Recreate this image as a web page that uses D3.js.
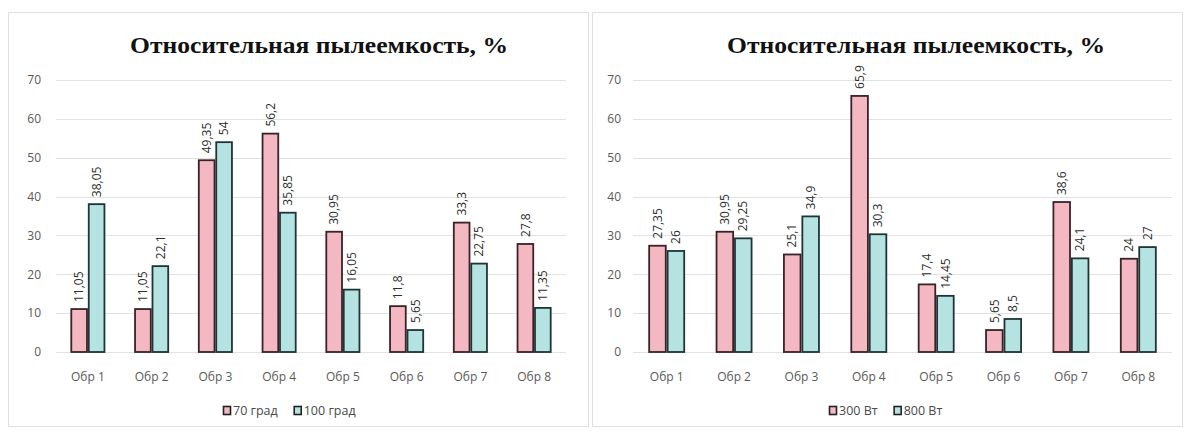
<!DOCTYPE html>
<html><head><meta charset="utf-8">
<script src="https://cdn.jsdelivr.net/npm/d3@7"></script>
<style>body{margin:0;background:#fff}svg{display:block}</style>
</head><body>
<svg id="c" width="1190" height="433"></svg>
<script>
const categories = ["Обр 1","Обр 2","Обр 3","Обр 4","Обр 5","Обр 6","Обр 7","Обр 8"];
const yTicks = [0,10,20,30,40,50,60,70];
const title = "Относительная пылеемкость, %";
// left chart
const leftSeriesNames = ["70 град","100 град"];
const left70 = [11.05,11.05,49.35,56.2,30.95,11.8,33.3,27.8];
const left100 = [38.05,22.1,54,35.85,16.05,5.65,22.75,11.35];
// right chart
const rightSeriesNames = ["300 Вт","800 Вт"];
const right300 = [27.35,30.95,25.1,65.9,17.4,5.65,38.6,24];
const right800 = [26,29.25,34.9,30.3,14.45,8.5,24.1,27];

const fills = ["#f4b8c3","#b5e3e2"];
const strokes = ["#3a2226","#1f3535"];

const svg = d3.select("#c");

function fmt(v){ return String(v).replace(".", ","); }

function drawChart(opt){
  const g = svg.append("g");
  // panel border
  g.append("rect").attr("x",opt.box[0]+0.5).attr("y",opt.box[1]+0.5)
    .attr("width",opt.box[2]).attr("height",opt.box[3])
    .attr("fill","none").attr("stroke","#e0e0e0");
  const y = d3.scaleLinear().domain([0,70]).range([352,80]);
  const x0 = d3.scaleBand().domain(categories).range(opt.xr).paddingInner(0.48).paddingOuter(0.24);
  const x1 = d3.scaleBand().domain([0,1]).range([0,x0.bandwidth()]).paddingInner(0.1);
  // gridlines
  g.append("g").selectAll("line").data(yTicks).join("line")
    .attr("x1",opt.xr[0]).attr("x2",opt.xr[1])
    .attr("y1",d=>Math.round(y(d))+0.5).attr("y2",d=>Math.round(y(d))+0.5)
    .attr("stroke","#e2e2e2").attr("stroke-width",1);
  // y axis labels
  const ya = d3.axisLeft(y).tickValues(yTicks).tickSize(0).tickPadding(0);
  const yg = g.append("g").attr("transform",`translate(${opt.yLabelX},0)`).call(ya);
  yg.select(".domain").remove();
  yg.selectAll("text").attr("font-family","Open Sans, sans-serif").attr("font-size",12).attr("fill","#595959");
  // x axis labels
  const xa = d3.axisBottom(x0).tickSize(0).tickPadding(0);
  const xg = g.append("g").attr("transform","translate(0,372)").call(xa);
  xg.select(".domain").remove();
  xg.selectAll("text").attr("font-family","Open Sans, sans-serif").attr("font-size",12).attr("fill","#595959");
  // bars
  const rows = categories.map((c,i)=>({c, v:[opt.s[0][i],opt.s[1][i]]}));
  const grp = g.append("g").selectAll("g").data(rows).join("g")
    .attr("transform",d=>`translate(${x0(d.c)},0)`);
  grp.selectAll("rect").data(d=>d.v.map((v,k)=>({v,k}))).join("rect")
    .attr("x",d=>x1(d.k)).attr("width",x1.bandwidth())
    .attr("y",d=>y(d.v)).attr("height",d=>y(0)-y(d.v))
    .attr("fill",d=>fills[d.k]).attr("stroke",d=>strokes[d.k]).attr("stroke-width",1.8);
  grp.selectAll("text").data(d=>d.v.map((v,k)=>({v,k}))).join("text")
    .attr("transform",d=>`translate(${x1(d.k)+x1.bandwidth()/2},${y(d.v)-7}) rotate(-90)`)
    .attr("dy","0.35em").attr("text-anchor","start")
    .attr("font-family","Open Sans, sans-serif").attr("font-size",12).attr("fill","#2e2e2e")
    .text(d=>fmt(d.v));
  // title
  g.append("text").attr("x",opt.titleX).attr("y",53).attr("text-anchor","middle")
    .attr("font-family","Liberation Serif, Times New Roman, serif").attr("font-weight","bold")
    .attr("font-size",24).attr("fill","#111")
    .attr("textLength",378).attr("lengthAdjust","spacingAndGlyphs")
    .text(title);
  // legend
  const lg = g.append("g").attr("transform",`translate(${opt.legendX},411)`);
  let xo = 0;
  opt.names.forEach((n,k)=>{
    lg.append("rect").attr("x",xo+0.5).attr("y",-4.5).attr("width",7).attr("height",8)
      .attr("fill",fills[k]).attr("stroke","#222").attr("stroke-width",1.6);
    const t = lg.append("text").attr("x",xo+10).attr("y",0).attr("dy","0.35em")
      .attr("font-family","Open Sans, sans-serif").attr("font-size",12.5).attr("fill","#4a4a4a").text(n);
    xo += 10 + t.node().getComputedTextLength() + 16;
  });
}

drawChart({box:[8,12,580,414], xr:[56,566], yLabelX:41, titleX:319, legendX:223,
  names:leftSeriesNames, s:[left70,left100]});
drawChart({box:[592,12,590,414], xr:[633,1172], yLabelX:621, titleX:916, legendX:829,
  names:rightSeriesNames, s:[right300,right800]});
</script>
</body></html>
